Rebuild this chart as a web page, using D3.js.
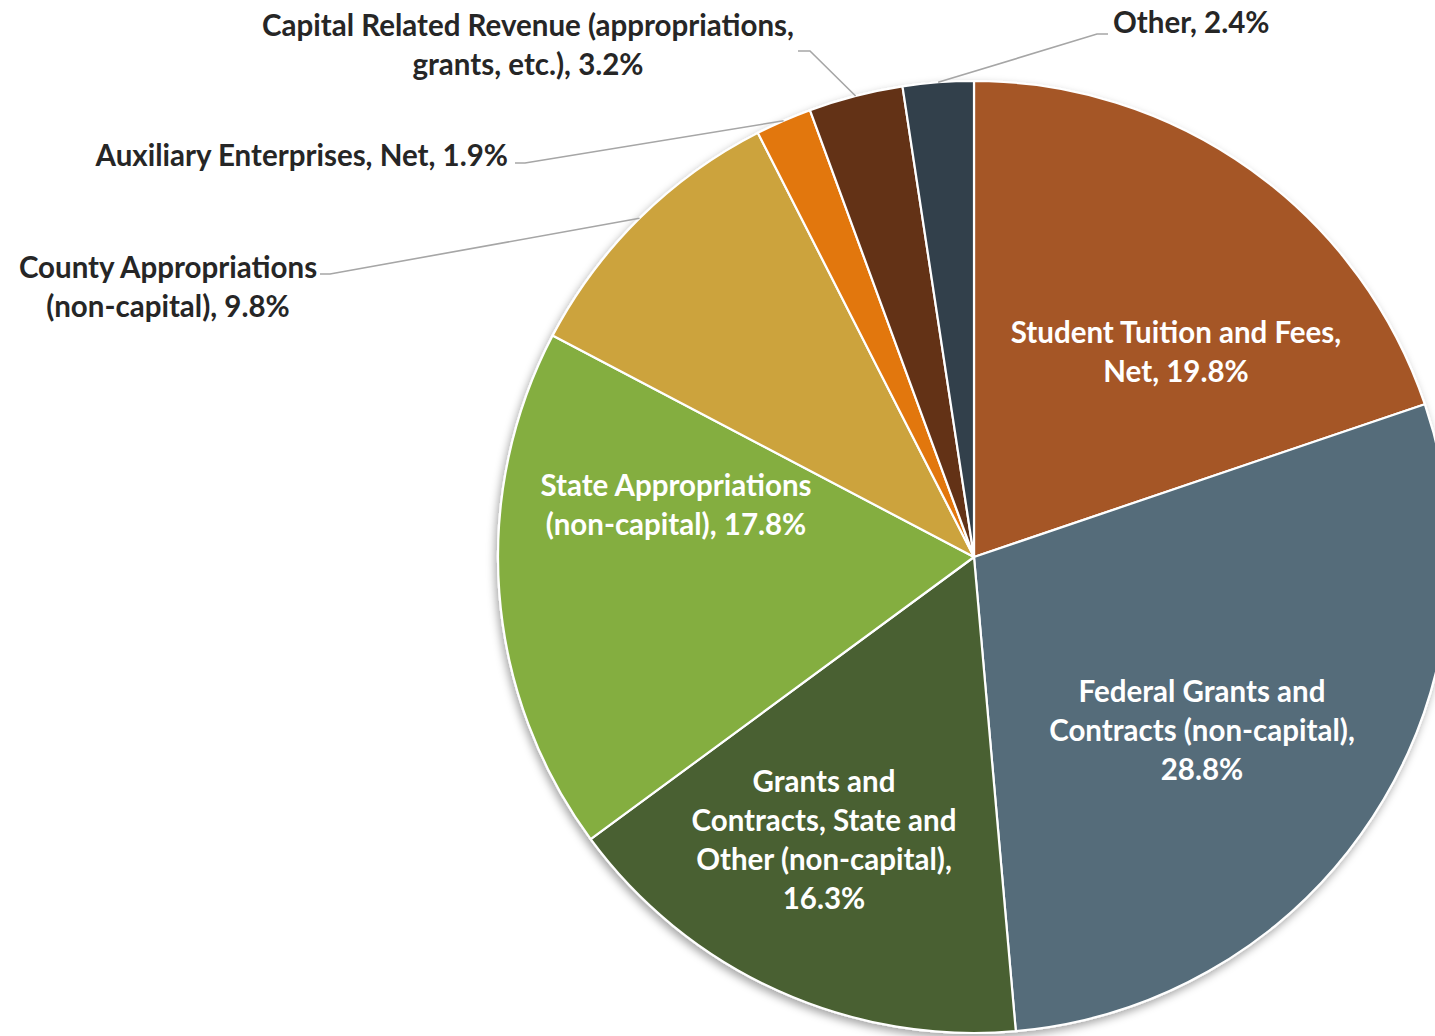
<!DOCTYPE html>
<html>
<head>
<meta charset="utf-8">
<script src="https://cdn.jsdelivr.net/npm/d3@7"></script>
<style>
  body { margin: 0; background: #fff; }
  text { font-family: Lato, "Open Sans", sans-serif; font-weight: 700; }
</style>
</head>
<body>
<div id="chart"></div>
<script>
// data
var categories = [
    "Student Tuition and Fees, Net",
    "Federal Grants and Contracts (non-capital)",
    "Grants and Contracts, State and Other (non-capital)",
    "State Appropriations (non-capital)",
    "County Appropriations (non-capital)",
    "Auxiliary Enterprises, Net",
    "Capital Related Revenue (appropriations, grants, etc.)",
    "Other"
];
var values = [19.8, 28.8, 16.3, 17.8, 9.8, 1.9, 3.2, 2.4];
var colors = ["#A55728", "#546C7A", "#4A6130", "#84AE41", "#CCA33E", "#E2770F", "#633318", "#323F4B"];
// label text split into lines
var labelLines = [
    ["Student Tuition and Fees,", "Net, 19.8%"],
    ["Federal Grants and", "Contracts (non-capital),", "28.8%"],
    ["Grants and", "Contracts, State and", "Other (non-capital),", "16.3%"],
    ["State Appropriations", "(non-capital), 17.8%"],
    ["County Appropriations", "(non-capital), 9.8%"],
    ["Auxiliary Enterprises, Net, 1.9%"],
    ["Capital Related Revenue (appropriations,", "grants, etc.), 3.2%"],
    ["Other, 2.4%"]
];

// dimensions
var width = 1435, height = 1036;
var cx = 974, cy = 557, radius = 476;
var lineH = 39;

// label layout: inside labels relative to center, outside labels with leader elbow
var layout = [
    { inside: true, x: 202, y: -205 },
    { inside: true, x: 228, y: 173 },
    { inside: true, x: -150, y: 283 },
    { inside: true, x: -298, y: -52 },
    { inside: false, x: 168, y: 267, anchor: "middle", elbow: [330, 274], end: [320, 274] },
    { inside: false, x: 508, y: 155, anchor: "end", elbow: [525, 163], end: [515, 163] },
    { inside: false, x: 528, y: 25, anchor: "middle", elbow: [810, 51], end: [798, 51] },
    { inside: false, x: 1113, y: 22, anchor: "start", elbow: [1097, 34], end: [1108, 34] }
];

var svg = d3.select("#chart")
    .append("svg")
    .attr("width", width)
    .attr("height", height);

// soft shadow under the pie
var defs = svg.append("defs");
var filter = defs.append("filter").attr("id", "shadow")
    .attr("x", "-10%").attr("y", "-10%").attr("width", "120%").attr("height", "120%");
filter.append("feDropShadow")
    .attr("dx", -2).attr("dy", 4)
    .attr("stdDeviation", 4)
    .attr("flood-color", "#000")
    .attr("flood-opacity", 0.35);

var pie = d3.pie().sort(null).value(function (d) { return d; });
var arcs = pie(values);

var arc = d3.arc().innerRadius(0).outerRadius(radius);

var g = svg.append("g")
    .attr("transform", "translate(" + cx + "," + cy + ")");

g.append("g")
    .attr("filter", "url(#shadow)")
    .selectAll("path")
    .data(arcs)
    .enter()
    .append("path")
    .attr("d", arc)
    .attr("fill", function (d, i) { return colors[i]; })
    .attr("stroke", "#fff")
    .attr("stroke-width", 2.2)
    .attr("stroke-linejoin", "round");

// leader lines for outside labels
arcs.forEach(function (d, i) {
    var L = layout[i];
    if (L.inside) return;
    var a = (d.startAngle + d.endAngle) / 2;
    var px = cx + radius * Math.sin(a);
    var py = cy - radius * Math.cos(a);
    svg.append("polyline")
        .attr("points", [[px, py], L.elbow, L.end].map(function (p) { return p.join(","); }).join(" "))
        .attr("fill", "none")
        .attr("stroke", "#A6A6A6")
        .attr("stroke-width", 1.6);
});

// labels
arcs.forEach(function (d, i) {
    var L = layout[i];
    var lines = labelLines[i];
    var t;
    if (L.inside) {
        var y0 = cy + L.y - (lines.length - 1) * lineH / 2;
        t = svg.append("text")
            .attr("text-anchor", "middle")
            .attr("fill", "#fff");
        lines.forEach(function (s, k) {
            t.append("tspan")
                .attr("x", cx + L.x)
                .attr("y", y0 + k * lineH)
                .attr("dy", "0.36em")
                .text(s);
        });
    } else {
        t = svg.append("text")
            .attr("text-anchor", L.anchor)
            .attr("fill", "#262626");
        lines.forEach(function (s, k) {
            t.append("tspan")
                .attr("x", L.x)
                .attr("y", L.y + k * lineH)
                .attr("dy", "0.36em")
                .text(s);
        });
    }
    t.style("font-size", "29.5px");
});
</script>
</body>
</html>
